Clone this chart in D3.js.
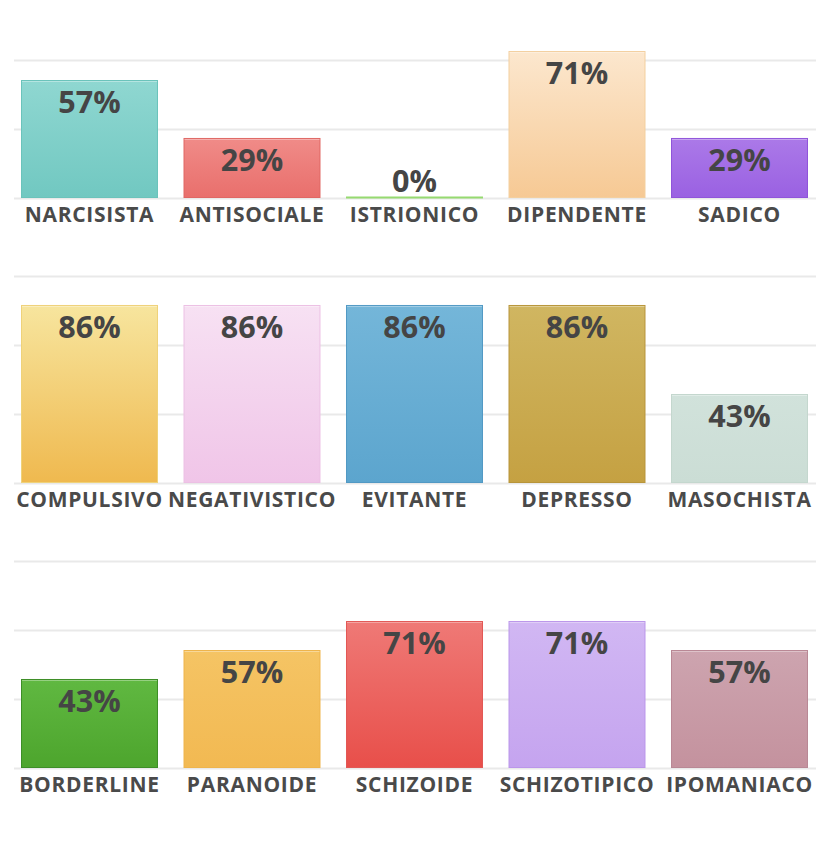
<!DOCTYPE html>
<html>
<head>
<meta charset="utf-8">
<script src="https://cdn.jsdelivr.net/npm/d3@7/dist/d3.min.js"></script>
<style>
  html, body { margin: 0; padding: 0; background: #ffffff; }
  svg { display: block; }
  text { font-family: "Open Sans", sans-serif; font-weight: 700; }
</style>
</head>
<body>
<script>
// ---- data ----
const categories1 = ["NARCISISTA", "ANTISOCIALE", "ISTRIONICO", "DIPENDENTE", "SADICO"];
const values1 = [57, 29, 0, 71, 29];
const categories2 = ["COMPULSIVO", "NEGATIVISTICO", "EVITANTE", "DEPRESSO", "MASOCHISTA"];
const values2 = [86, 86, 86, 86, 43];
const categories3 = ["BORDERLINE", "PARANOIDE", "SCHIZOIDE", "SCHIZOTIPICO", "IPOMANIACO"];
const values3 = [43, 57, 71, 71, 57];
const gridTicks = [0, 33.33, 66.67, 100];

// ---- styles (top colour, bottom colour, border) ----
const palette1 = [
  ["#8fd7d1", "#71c8c1", "#6bc3bb"],
  ["#f08b88", "#e96f6c", "#e06764"],
  ["#a6e283", "#96da70", "#8fd468"],
  ["#fce7ce", "#f6c994", "#f3cf9f"],
  ["#ab79e8", "#9a61e2", "#9055da"]
];
const palette2 = [
  ["#f7e59e", "#efb94f", "#efd27a"],
  ["#f7e1f3", "#f0c5e8", "#ecc0e4"],
  ["#74b6d9", "#5ca5ce", "#5299c4"],
  ["#d0b661", "#c5a142", "#b8953a"],
  ["#d1e2db", "#cbddd5", "#c4d7ce"]
];
const palette3 = [
  ["#60b841", "#4da52d", "#3d8e27"],
  ["#f5c464", "#f2b952", "#eeb44c"],
  ["#ef7976", "#e84f4a", "#e25855"],
  ["#d1b7f3", "#c5a4ef", "#bb96ea"],
  ["#cda4af", "#c4929e", "#b98895"]
];

const W = 828, H = 859;
const baselines = [198, 483, 768];
const barMax = 207;

const svg = d3.select("body").append("svg")
  .attr("width", W).attr("height", H);
const defs = svg.append("defs");

const panels = [
  { cats: categories1, vals: values1, pal: palette1 },
  { cats: categories2, vals: values2, pal: palette2 },
  { cats: categories3, vals: values3, pal: palette3 }
];

panels.forEach((p, pi) => {
  const base = baselines[pi];
  const x = d3.scaleBand().domain(p.cats).range([8.25, 820.75])
    .paddingInner(0.157).paddingOuter(0.0785);
  const y = d3.scaleLinear().domain([0, 100]).range([base, base - barMax]);
  const g = svg.append("g");

  // gridlines
  const yAxis = d3.axisLeft(y).tickValues(gridTicks).tickSize(-(816 - 14)).tickFormat("");
  const ga = g.append("g").attr("transform", "translate(14,0)").call(yAxis);
  ga.select(".domain").remove();
  ga.selectAll(".tick line").attr("stroke", "#e9e9e9").attr("stroke-width", 2);

  // gradients
  p.cats.forEach((c, i) => {
    const grad = defs.append("linearGradient")
      .attr("id", `gr${pi}_${i}`).attr("x1", 0).attr("y1", 0).attr("x2", 0).attr("y2", 1);
    grad.append("stop").attr("offset", "0%").attr("stop-color", p.pal[i][0]);
    grad.append("stop").attr("offset", "100%").attr("stop-color", p.pal[i][1]);
  });

  const data = p.cats.map((c, i) => ({ c, v: p.vals[i], i }));

  // bars
  g.selectAll("rect.bar").data(data.filter(d => d.v > 0)).join("rect")
    .attr("class", "bar")
    .attr("x", d => x(d.c) + 0.5)
    .attr("y", d => y(d.v) + 0.5)
    .attr("width", x.bandwidth() - 1)
    .attr("height", d => y(0) - y(d.v) - 1)
    .attr("fill", d => `url(#gr${pi}_${d.i})`)
    .attr("stroke", d => p.pal[d.i][2])
    .attr("stroke-width", 1);

  // top highlight
  g.selectAll("line.hl").data(data.filter(d => d.v > 0)).join("line")
    .attr("class", "hl")
    .attr("x1", d => x(d.c) + 1)
    .attr("x2", d => x(d.c) + x.bandwidth() - 1)
    .attr("y1", d => y(d.v) + 1.5)
    .attr("y2", d => y(d.v) + 1.5)
    .attr("stroke", "#ffffff").attr("stroke-opacity", 0.35).attr("stroke-width", 1);

  // zero-value bars
  g.selectAll("line.zero").data(data.filter(d => d.v === 0)).join("line")
    .attr("class", "zero")
    .attr("x1", d => x(d.c))
    .attr("x2", d => x(d.c) + x.bandwidth())
    .attr("y1", y(0) - 0.5).attr("y2", y(0) - 0.5)
    .attr("stroke", p.pal[2][1]).attr("stroke-width", 2);

  // value labels
  g.selectAll("text.val").data(data).join("text")
    .attr("class", "val")
    .attr("x", d => x(d.c) + x.bandwidth() / 2)
    .attr("y", d => d.v > 0 ? y(d.v) + 33 : y(0) - 6)
    .attr("text-anchor", "middle")
    .attr("font-size", 30.5)
    .attr("fill", "#454545")
    .text(d => d.v + "%");

  // category labels
  const xAxis = d3.axisBottom(x).tickSize(0).tickPadding(0);
  const gx = g.append("g").attr("transform", `translate(0,${base})`).call(xAxis);
  gx.select(".domain").remove();
  gx.selectAll(".tick text")
    .attr("dy", null)
    .attr("y", 24)
    .attr("font-size", 21)
    .attr("font-family", "'Open Sans', sans-serif")
    .attr("font-weight", 700)
    .attr("fill", "#4a4a4a")
    .attr("letter-spacing", 0.7);
});
</script>
</body>
</html>
